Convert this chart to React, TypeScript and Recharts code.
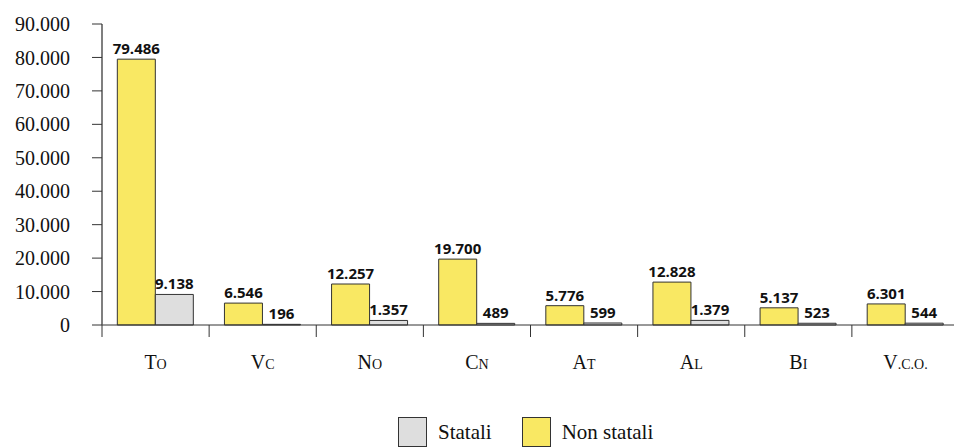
import React from 'react';
import { BarChart, Bar, XAxis, YAxis, LabelList } from 'recharts';

const categories = ['To', 'Vc', 'No', 'Cn', 'At', 'Al', 'Bi', 'V.c.o.'];
const nonStatali = [79486, 6546, 12257, 19700, 5776, 12828, 5137, 6301];
const statali = [9138, 196, 1357, 489, 599, 1379, 523, 544];
const yTicks = [0, 10000, 20000, 30000, 40000, 50000, 60000, 70000, 80000, 90000];
const seriesNames = { statali: 'Statali', nonStatali: 'Non statali' };

const YELLOW = '#F9E863';
const GREY = '#DEDEDE';
const STROKE = '#333333';
const SERIF = '"Liberation Serif", "DejaVu Serif", serif';
const SANS = '"Open Sans", "DejaVu Sans", sans-serif';

const data = categories.map((c, i) => ({ cat: c, nonStatali: nonStatali[i], statali: statali[i] }));

const fmt = (v: any) => String(v).replace(/\B(?=(\d{3})+(?!\d))/g, '.');

const CatTick = (props: any) => {
  const { x, y, payload } = props;
  const off = payload && payload.offset != null ? payload.offset : 53.5;
  const label: string = String(payload.value);
  const first = label.charAt(0).toUpperCase();
  const rest = label.slice(1).toUpperCase();
  return (
    <g>
      <line x1={x - off} y1={y} x2={x - off} y2={y + 12} stroke={STROKE} strokeWidth={1} />
      <text x={x} y={y + 44} textAnchor="middle" fill="#111" fontFamily={SERIF}>
        <tspan fontSize={20}>{first}</tspan>
        <tspan fontSize={14}>{rest}</tspan>
      </text>
    </g>
  );
};

const LegendBox = ({ color, name }: { color: string; name: string }) => (
  <div style={{ display: 'flex', alignItems: 'center', marginRight: 0 }}>
    <div style={{ width: 29, height: 30, background: color, border: `1px solid ${STROKE}`, boxSizing: 'border-box' }} />
    <span style={{ fontFamily: SERIF, fontSize: 21, color: '#111', marginLeft: 11 }}>{name}</span>
  </div>
);

const labelStyle = { fontFamily: SANS, fontSize: 15, fontWeight: 700, fill: '#111' };

export default function App() {
  return (
    <div style={{ position: 'absolute', left: 0, top: 0, width: 954, height: 447, overflow: 'hidden', background: '#fff' }}>
      <BarChart
        width={959}
        height={447}
        data={data}
        margin={{ top: 24, right: 0, bottom: 0, left: 0 }}
        barCategoryGap="14.3%"
        barGap={0}
      >
        <XAxis
          dataKey="cat"
          height={122}
          tickLine={false}
          tickSize={0}
          tickMargin={0}
          axisLine={{ stroke: STROKE, strokeWidth: 1 }}
          tick={<CatTick />}
          interval={0}
        />
        <YAxis
          width={102}
          domain={[0, 90000]}
          ticks={yTicks}
          tickFormatter={fmt}
          tickSize={10}
          tickMargin={22}
          axisLine={{ stroke: '#555', strokeWidth: 1.5 }}
          tickLine={{ stroke: STROKE }}
          tick={{ fontFamily: SERIF, fontSize: 20, fill: '#111' }}
          interval={0}
        />
        <Bar dataKey="nonStatali" name={seriesNames.nonStatali} fill={YELLOW} stroke={STROKE} strokeWidth={1} isAnimationActive={false}>
          <LabelList dataKey="nonStatali" position="top" offset={5} formatter={fmt} style={labelStyle} />
        </Bar>
        <Bar dataKey="statali" name={seriesNames.statali} fill={GREY} stroke={STROKE} strokeWidth={1} isAnimationActive={false}>
          <LabelList dataKey="statali" position="top" offset={5} formatter={fmt} style={labelStyle} />
        </Bar>
      </BarChart>
      <div style={{ position: 'absolute', left: 398, top: 417, display: 'flex' }}>
        <LegendBox color={GREY} name={seriesNames.statali} />
        <div style={{ width: 30 }} />
        <LegendBox color={YELLOW} name={seriesNames.nonStatali} />
      </div>
    </div>
  );
}
